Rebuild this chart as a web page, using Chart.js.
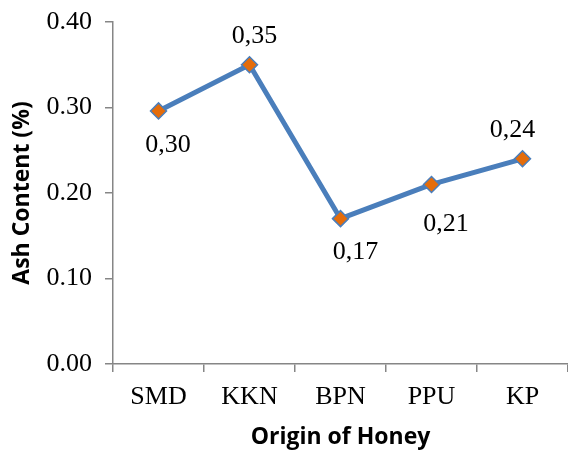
<!DOCTYPE html>
<html>
<head>
<meta charset="utf-8">
<script src="https://cdn.jsdelivr.net/npm/chart.js@4/dist/chart.umd.min.js"></script>
<style>
  html, body { margin: 0; padding: 0; background: #fff; }
  canvas { display: block; }
</style>
</head>
<body>
<canvas id="myChart" width="568" height="451"></canvas>
<script>
'use strict';

// chart data
let origins = ['SMD', 'KKN', 'BPN', 'PPU', 'KP'];
let ashContent = [0.296, 0.35, 0.17, 0.21, 0.24];
let yTicks = [0, 0.1, 0.2, 0.3, 0.4];

// where each value label sits relative to its marker (dx, dy)
let labelOffsets = [[9.5, 34], [5, -29], [15, 34], [14.5, 40], [-10, -29]];

let axisGray = '#868686';
let lineBlue = '#4a7ebb';

// simple value label plugin, comma decimals like the original
let valueLabels = {
  id: 'valueLabels',
  afterDatasetsDraw(chart) {
    let ctx = chart.ctx;
    let meta = chart.getDatasetMeta(0);
    ctx.save();
    ctx.font = '26px "Liberation Serif", "Times New Roman", serif';
    ctx.fillStyle = '#000';
    ctx.textAlign = 'center';
    ctx.textBaseline = 'middle';
    for (let i = 0; i < meta.data.length; i++) {
      let pt = meta.data[i];
      let text = ashContent[i].toFixed(2).replace('.', ',');
      ctx.fillText(text, pt.x + labelOffsets[i][0], pt.y + labelOffsets[i][1]);
    }
    ctx.restore();
  }
};

let serif = { family: '"Liberation Serif", "Times New Roman", serif', size: 26 };
let titleFont = { family: '"Open Sans", sans-serif', size: 23, weight: 'bold' };

let chartObject = {
  type: 'line',
  data: {
    labels: origins,
    datasets: [{
      data: ashContent,
      borderColor: lineBlue,
      borderWidth: 5,
      pointStyle: 'rectRot',
      pointRadius: 8,
      pointBackgroundColor: '#e46c0a',
      pointBorderColor: lineBlue,
      pointBorderWidth: 1.5,
      tension: 0
    }]
  },
  options: {
    responsive: false,
    animation: false,
    layout: {
      autoPadding: false,
      padding: { top: 22, right: -2, bottom: 0, left: 0 }
    },
    plugins: {
      legend: { display: false },
      tooltip: { enabled: false }
    },
    scales: {
      x: {
        offset: true,
        grid: {
          offset: true,
          drawOnChartArea: false,
          color: axisGray,
          lineWidth: 1.5,
          tickLength: 8
        },
        border: { color: axisGray, width: 1.5 },
        ticks: { color: '#000', font: serif, padding: 10 },
        title: {
          display: true,
          text: 'Origin of Honey',
          color: '#000',
          font: titleFont,
          padding: { top: 2, bottom: 0 }
        },
        afterFit(scale) {
          scale.height = 87;
          scale.paddingLeft = 0;
          scale.paddingRight = 0;
        }
      },
      y: {
        min: 0,
        max: 0.4,
        afterBuildTicks(scale) {
          scale.ticks = yTicks.map(v => ({ value: v }));
        },
        grid: {
          drawOnChartArea: false,
          color: axisGray,
          lineWidth: 1.5,
          tickLength: 8
        },
        border: { color: axisGray, width: 1.5 },
        ticks: {
          color: '#000',
          font: serif,
          padding: 13,
          callback: v => v.toFixed(2)
        },
        title: {
          display: true,
          text: 'Ash Content (%)',
          color: '#000',
          font: titleFont,
          padding: { top: 9, bottom: 0 }
        },
        afterFit(scale) {
          scale.width = 113;
          scale.paddingTop = 0;
          scale.paddingBottom = 0;
        }
      }
    }
  },
  plugins: [valueLabels]
};

let ctx = document.getElementById('myChart').getContext('2d');
let myChart = new Chart(ctx, chartObject);
</script>
</body>
</html>
